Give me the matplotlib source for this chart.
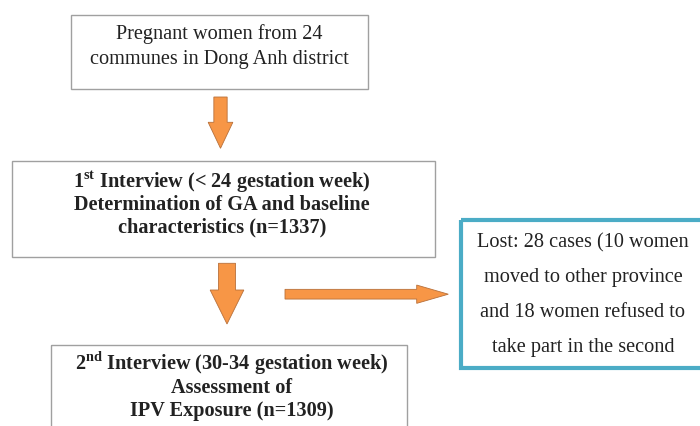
import matplotlib
matplotlib.use("Agg")
import matplotlib.pyplot as plt
from matplotlib.patches import Rectangle, FancyArrow

plt.rcParams["font.family"] = ["Liberation Serif", "DejaVu Serif"]
plt.rcParams["mathtext.fontset"] = "custom"
plt.rcParams["mathtext.rm"] = "Liberation Serif"
plt.rcParams["mathtext.bf"] = "Liberation Serif:bold"

# box texts
start_lines = ["Pregnant women from 24", "communes in Dong Anh district"]
first_lines = [r"1$^{\mathbf{st}}$ Interview (< 24 gestation week)",
               "Determination of GA and baseline",
               "characteristics (n=1337)"]
lost_lines = ["Lost: 28 cases (10 women",
              "moved to other province",
              "and 18 women refused to",
              "take part in the second"]
second_lines = [r"2$^{\mathbf{nd}}$ Interview (30-34 gestation week)",
                "Assessment of",
                "IPV Exposure (n=1309)"]

GRAY = "#a0a0a0"
BLUE = "#4bacc6"
ORANGE = "#f79646"
ORANGE_EDGE = "#b8703a"

fig = plt.figure(figsize=(7, 4.26), dpi=100)
ax = fig.add_axes([0, 0, 1, 1])
ax.set_xlim(0, 700)
ax.set_ylim(426, 0)
ax.axis("off")


def box(x0, y0, x1, y1, color=GRAY, lw=1.0):
    ax.add_patch(Rectangle((x0, y0), x1 - x0, y1 - y0, fill=False,
                           edgecolor=color, linewidth=lw))


def lines(cx, baselines, texts, bold=False, size=14.6):
    # y values are text baselines in pixel rows
    for y, t in zip(baselines, texts):
        ax.text(cx, y, t, ha="center", va="baseline", fontsize=size,
                fontweight="bold" if bold else "normal", color="#222222")


def arrow(x, y, dx, dy, width, head_width, head_length):
    ax.add_patch(FancyArrow(x, y, dx, dy, width=width, head_width=head_width,
                            head_length=head_length, length_includes_head=True,
                            facecolor=ORANGE, edgecolor=ORANGE_EDGE, linewidth=0.6))


box(70.5, 14.5, 368, 88.5)
lines(219, [39, 64], start_lines)

box(11.5, 160.5, 434.5, 256.5)
lines(222, [187.5, 210, 232], first_lines, bold=True)

box(461, 220, 720, 368, color=BLUE, lw=3)
lines(583, [247.5, 282, 317, 352], lost_lines)

box(51, 344.5, 406.5, 440)
lines(232, [370, 393, 416], second_lines, bold=True)

arrow(220.5, 97, 0, 51.3, 13.3, 24.7, 26)
arrow(227, 263.3, 0, 60.7, 17, 33.7, 34)
arrow(285, 294.2, 163.3, 0, 9.7, 18.3, 31.6)

fig.savefig("out.png", dpi=100)
